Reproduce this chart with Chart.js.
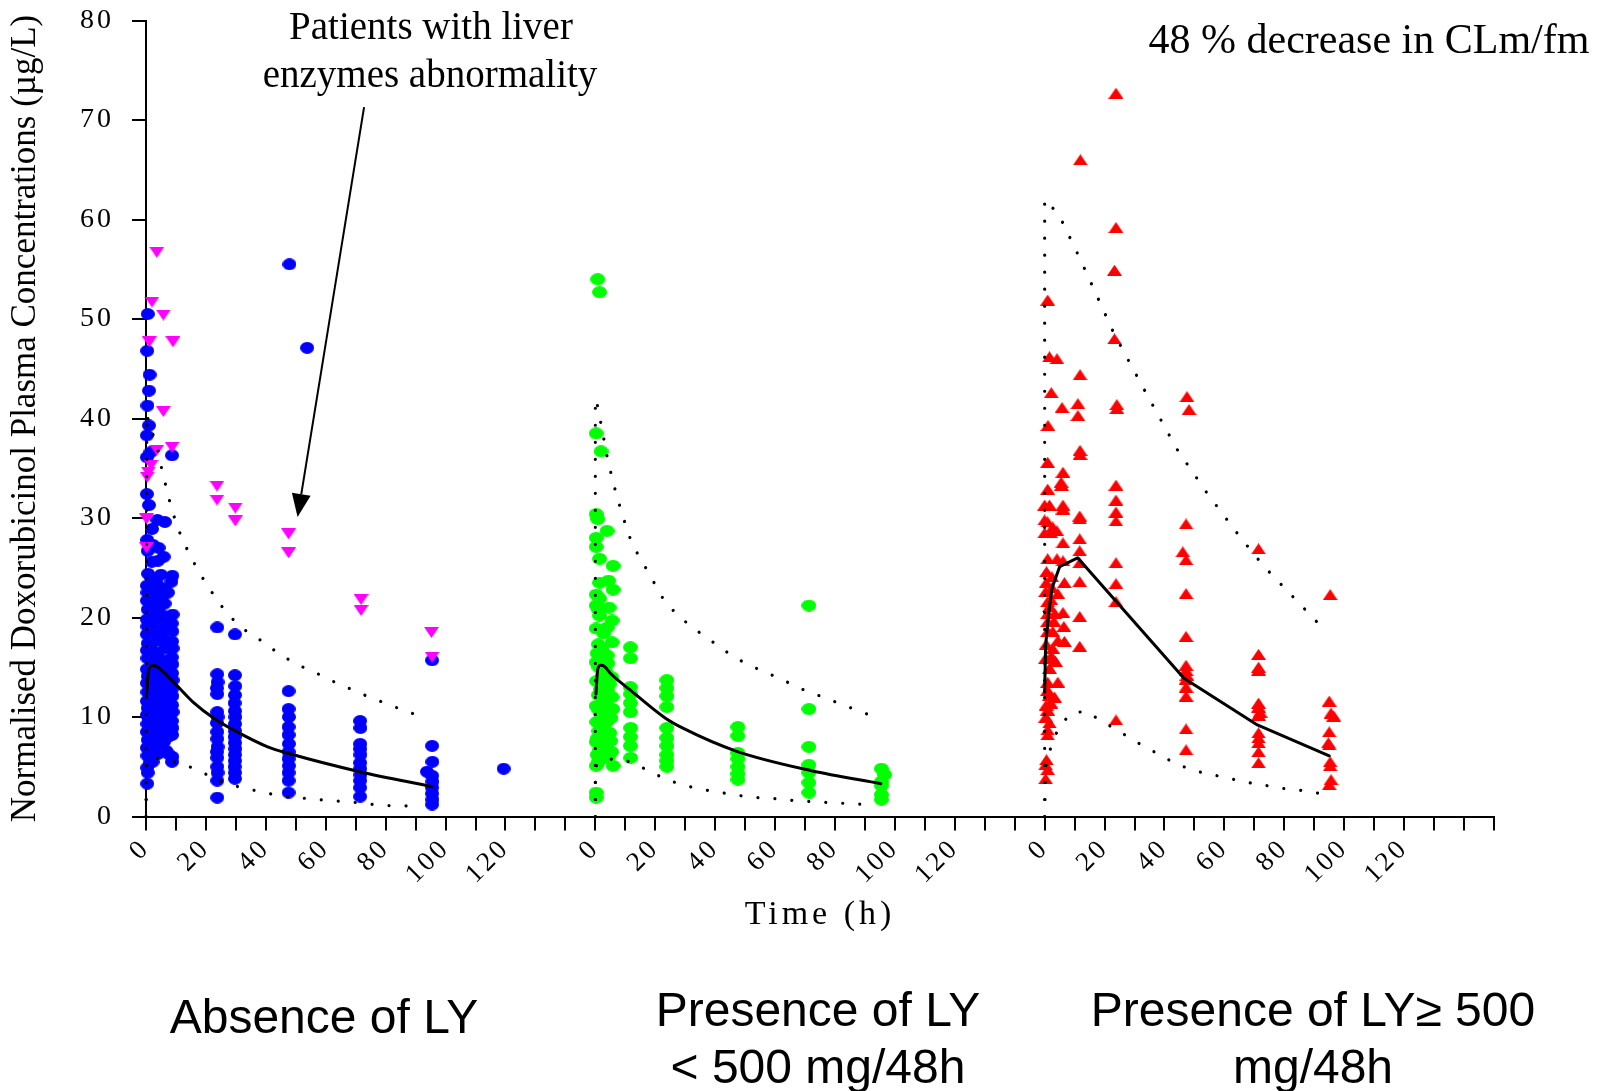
<!DOCTYPE html>
<html>
<head>
<meta charset="utf-8">
<title>Doxorubicinol concentrations by LY group</title>
<script src="https://cdn.jsdelivr.net/npm/chart.js@4.4.1/dist/chart.umd.min.js"></script>
<style>
  html, body { margin: 0; padding: 0; background: #ffffff; }
  #wrap { width: 1613px; height: 1091px; }
</style>
</head>
<body>
<div id="wrap"><canvas id="chart" width="1613" height="1091"></canvas></div>
<script>
// Each group is plotted on its own 0-150 h stretch of one shared time axis.
const panelOffsets = [0, 150, 300];
const timeTickLabels = [0, 20, 40, 60, 80, 100, 120];
const concentrationTicks = [0, 10, 20, 30, 40, 50, 60, 70, 80];

const yTitle = 'Normalised Doxorubicinol Plasma Concentrations (\u00b5g/L)';
const xTitle = 'Time (h)';
const groupNames = [['Absence of LY'], ['Presence of LY', '< 500 mg/48h'], ['Presence of LY\u2265 500', 'mg/48h']];
const liverNote = ['Patients with liver', 'enzymes abnormality'];
const clearanceNote = '48 % decrease in CLm/fm';

// Observed concentrations [time (h), concentration (ug/L)]
const absenceObs = [
  [0.6,50.5],[0.4,46.8],[1.2,44.4],[1.0,42.8],[0.5,41.3],[1.0,39.3],[0.3,38.3],[0.3,36.1],[1.5,36.6],[0.3,32.4],[1.0,31.3],
  [0.4,27.8],[0.6,26.7],[0.7,24.4],[0.3,23.2],[0.5,22.5],[0.3,21.7],[0.6,20.8],[0.3,19.8],[0.5,19.1],[0.3,18.3],[0.6,17.4],
  [0.3,16.7],[0.5,15.9],[0.3,14.8],[0.6,14.1],[0.3,13.4],[0.5,12.5],[0.3,11.6],[0.6,10.9],[0.3,10.2],[0.5,9.3],[0.3,8.5],
  [0.6,7.7],[0.3,6.9],[0.5,6.1],[0.4,4.9],[0.6,4.4],[0.4,3.3],
  [1.2,22.0],[1.3,19.5],[1.1,17.0],[1.3,14.6],[1.2,12.0],[1.1,9.8],[1.3,7.3],[1.2,5.4],
  [2.0,28.9],[2.3,27.3],[1.9,25.6],[1.8,24.0],[2.2,22.8],[2.0,21.9],[1.8,20.4],[2.2,19.5],[2.0,18.5],[1.7,17.2],[2.2,16.3],
  [2.0,15.4],[1.8,14.3],[2.3,13.5],[2.0,12.4],[1.8,11.5],[2.2,10.4],[2.0,9.7],[1.8,8.7],[2.2,7.6],[2.0,6.8],[2.2,5.5],
  [3.0,21.2],[3.1,18.8],[2.9,16.0],[3.0,13.0],[3.1,10.9],[2.9,8.3],[3.0,6.5],
  [3.8,29.8],[4.2,27.0],[4.0,25.7],[3.6,23.4],[4.2,22.1],[4.0,20.8],[3.8,19.9],[4.3,18.6],[4.0,17.7],[3.7,16.4],[4.2,15.6],
  [4.0,14.5],[3.8,13.8],[4.2,12.7],[4.0,11.9],[3.8,10.7],[4.2,9.9],[4.0,9.0],[3.8,7.9],[4.2,7.2],[4.0,6.3],
  [5.0,24.3],[5.1,21.8],[4.9,18.2],[5.0,15.2],[5.1,12.2],[4.9,10.1],[5.0,8.0],[5.2,6.8],
  [6.3,29.6],[5.9,26.1],[6.0,22.9],[6.2,21.4],[5.8,20.2],[6.1,19.0],[5.9,17.8],[6.2,16.9],[5.8,15.7],[6.0,14.6],[6.2,13.6],
  [5.8,12.6],[6.1,11.5],[5.9,10.6],[6.2,9.6],[5.8,8.5],[6.0,7.5],[6.8,6.6],
  [7.3,22.5],[7.4,19.6],[7.2,17.2],[7.4,14.9],[7.3,12.4],[7.2,10.0],[7.3,8.0],[7.5,6.3],
  [8.7,36.3],[8.8,24.2],[8.5,23.6],[8.9,20.3],[8.6,19.4],[8.8,18.6],[8.7,17.6],[8.9,16.9],[8.6,16.0],[8.8,15.3],[8.7,14.4],
  [8.9,13.7],[8.6,12.8],[8.8,12.1],[8.7,11.2],[8.9,10.5],[8.6,9.6],[8.8,8.9],[8.7,8.2],[8.8,6.0],[8.7,5.5],
  [23.8,19.0],[23.8,14.3],[23.9,13.5],[23.7,12.9],[23.8,12.3],[23.8,10.5],[23.9,10.0],[23.7,9.4],[23.8,8.5],[23.8,7.8],
  [23.9,7.0],[23.7,6.5],[23.8,5.9],[23.8,5.0],[23.9,4.4],[23.8,3.6],[23.8,1.9],
  [29.7,18.3],[29.7,14.2],[29.8,13.1],[29.7,12.2],[29.6,11.4],[29.7,10.6],[29.8,10.0],[29.7,9.3],[29.7,8.6],[29.6,8.0],
  [29.7,7.4],[29.8,6.8],[29.7,6.2],[29.7,5.6],[29.6,5.0],[29.7,4.4],[29.7,3.8],
  [47.9,55.5],[47.6,12.6],[47.6,10.8],[47.7,10.0],[47.6,9.0],[47.6,8.2],[47.7,7.3],[47.6,6.5],[47.6,5.8],[47.7,5.1],
  [47.6,4.4],[47.6,3.6],[47.6,2.4],[53.8,47.1],
  [71.5,9.6],[71.6,8.9],[71.5,7.3],[71.5,6.8],[71.6,6.2],[71.5,5.4],[71.5,4.8],[71.6,4.2],[71.5,3.6],[71.5,2.9],[71.5,2.0],
  [95.5,15.7],[95.5,7.1],[95.6,5.5],[93.8,4.5],[95.5,4.1],[95.6,3.5],[95.5,2.9],[95.5,2.3],[95.6,1.7],[95.5,1.2],
  [119.4,4.8]
];

// Patients with liver enzyme abnormality (no LY)
const liverAbnormalObs = [
  [3.6,56.7],[2.0,51.7],[5.8,50.4],[1.1,47.7],[9.0,47.7],[5.8,40.7],[3.6,36.8],[8.7,37.1],[1.7,35.3],[0.8,34.6],[0.4,34.1],
  [0.2,29.9],[0.2,27.0],[23.7,33.2],[23.7,31.8],[29.8,31.0],[29.8,29.7],[47.6,28.4],[47.6,26.5],[71.8,21.8],[71.8,20.7],
  [95.3,18.5],[95.5,16.0]
];

const lowDoseObs = [
  [0.8,54.0],[1.4,52.7],[0.3,38.5],[1.9,36.7],[0.3,30.4],[0.8,29.9],[3.9,28.7],[0.3,28.0],[0.3,27.1],[1.4,25.9],[5.9,25.2],
  [1.4,23.5],[4.4,23.7],[5.9,22.8],[0.3,22.3],[1.4,21.9],[0.3,21.2],[1.4,20.2],[5.6,19.7],[0.3,18.9],[3.9,19.0],[1.0,17.3],
  [5.6,17.5],[3.9,16.2],[0.3,15.5],[1.2,15.0],[3.5,14.6],[5.5,14.0],[0.4,13.6],[2.0,13.2],[4.0,12.7],[1.0,12.2],[5.6,12.0],
  [2.6,11.6],[0.3,11.1],[4.3,10.8],[1.6,10.4],[5.2,9.9],[0.5,9.5],[3.0,9.2],[1.2,8.6],[4.8,8.4],[2.2,7.9],[0.3,7.5],
  [3.8,7.1],[1.5,6.7],[5.4,6.5],[0.6,6.2],[2.8,5.9],[0.3,5.1],[5.9,5.1],[0.3,2.4],[0.3,1.9],
  [2.5,14.1],[4.6,13.3],[1.8,12.8],[3.4,11.3],[0.9,10.8],[2.3,10.0],[4.0,9.6],[1.9,9.0],[3.6,8.3],[0.8,7.9],[5.1,7.6],
  [1.0,20.8],[2.8,18.4],[4.6,21.0],[2.2,16.8],[0.6,16.4],[4.2,15.4],[3.2,13.6],[5.8,10.8],[2.0,6.3],[4.4,6.0],[1.0,5.5],
  [11.7,17.0],[11.7,15.9],[11.7,13.0],[11.8,12.3],[11.7,11.4],[11.7,10.5],[11.8,8.9],[11.7,8.0],[11.7,7.1],[11.8,5.9],
  [23.9,13.7],[23.9,12.9],[23.9,12.1],[23.9,11.0],[23.9,8.9],[23.9,7.9],[23.9,7.1],[23.9,6.2],[23.9,5.6],[23.9,5.0],
  [47.6,9.0],[47.6,8.1],[47.6,6.4],[47.6,5.8],[47.6,5.0],[47.6,4.3],[47.6,3.7],
  [71.3,21.2],[71.3,10.8],[71.3,7.0],[71.3,5.2],[71.3,4.4],[71.3,3.4],[71.3,2.4],
  [95.5,4.8],[96.6,4.2],[95.5,3.5],[95.5,3.1],[95.5,2.2],[95.5,1.7]
];

const highDoseObs = [
  [23.8,72.7],[11.9,66.0],[23.8,59.2],[23.3,54.9],[1.0,51.9],[23.3,48.0],[1.6,46.2],[4.1,46.0],[11.8,44.4],[2.2,42.6],
  [11.1,41.5],[5.8,41.1],[24.1,41.4],[24.1,41.0],[47.5,42.2],[48.2,40.9],[11.1,40.3],[1.1,39.3],[11.8,36.8],[11.8,36.4],
  [1.0,35.6],[6.1,34.6],[5.5,33.6],[5.6,33.3],[23.8,33.3],[1.0,32.9],[23.8,31.8],[0.0,31.3],[1.6,31.3],[6.1,31.3],[6.1,30.9],
  [23.8,30.6],[23.8,29.7],[11.7,30.2],[11.7,29.9],[0.0,29.8],[1.0,29.6],[47.2,29.4],[2.7,29.1],[0.0,28.5],[2.1,28.5],
  [4.1,28.7],[11.7,27.9],[6.1,27.5],[46.1,26.6],[47.2,25.8],[71.4,26.9],[11.7,26.7],[1.0,25.9],[4.1,25.9],[6.1,25.7],
  [11.7,25.5],[23.8,25.5],[0.5,23.5],[6.6,23.5],[11.7,23.6],[23.8,23.4],[4.4,22.4],[47.2,22.4],[23.8,21.6],[1.0,21.6],
  [1.6,21.1],[1.0,20.4],[3.4,20.4],[6.1,20.5],[1.0,19.6],[3.1,19.6],[6.4,19.1],[2.7,18.6],[1.0,18.6],[4.4,17.7],[6.6,17.6],
  [2.7,16.9],[2.1,16.1],[2.7,15.9],[1.6,14.9],[11.7,20.1],[11.7,17.1],[47.2,18.1],[71.4,16.3],[71.4,15.0],[71.4,14.7],
  [47.2,15.2],[47.2,14.7],[47.5,14.2],[47.2,13.8],[47.2,13.0],[47.2,12.1],[1.0,13.5],[4.4,13.5],[1.0,12.7],[0.5,11.2],
  [2.1,11.4],[1.0,10.7],[1.6,9.4],[1.0,8.7],[1.0,8.2],[23.8,9.7],[47.2,8.8],[47.2,6.7],[71.4,11.4],[71.4,11.0],[71.9,10.5],
  [71.4,10.2],[71.4,8.4],[71.4,7.9],[71.4,7.4],[71.4,6.5],[71.4,5.4],[95.3,22.3],[95.0,11.6],[95.6,10.4],[96.5,10.1],
  [95.0,8.5],[94.7,7.4],[95.0,7.2],[95.3,5.5],[95.3,5.1],[95.6,3.7],[95.0,3.2],[0.6,5.7],[0.3,5.2],[1.0,4.7],[0.3,3.8],
  [0.6,24.6],[2.4,24.1],[0.3,22.6],[2.1,21.8],[0.5,17.3],[3.6,15.6],[0.3,15.9],[1.6,12.2],[3.3,12.0],[0.4,10.0],[2.4,23.0]
];

// Model median (solid) and prediction interval bounds (dotted)
const absenceFit = [[0.2,12.1],[0.8,14.6],[2.3,15.2],[4.0,15.0],[8.6,13.7],[15.7,11.5],[23.0,9.8],[30.4,8.5],[40.6,7.0],[48.0,6.3],[71.3,4.5],[95.5,3.0]];
const absenceUpper = [[0,0],[0.3,40.5],[1.3,39.0],[3.3,37.8],[5.2,35.0],[7.7,31.9],[10.4,29.1],[14.7,26.2],[20.2,23.3],[27.0,20.4],[32.2,18.9],[38.3,17.7],[44.2,16.4],[50.2,15.3],[56.3,14.5],[62.3,13.6],[68.4,12.8],[74.5,12.0],[80.7,11.3],[86.5,10.6],[92.6,10.0]];
const absenceLower = [[0,0],[0.3,5.6],[2.0,6.0],[6.4,5.7],[12.3,5.3],[18.3,4.5],[24.4,3.6],[30.7,3.0],[36.6,2.6],[42.7,2.2],[48.7,1.9],[54.9,1.8],[60.8,1.6],[66.9,1.5],[73.1,1.3],[79.3,1.1],[85.3,1.1],[91.4,1.0]];

const lowDoseFit = [[0.2,12.3],[0.8,14.8],[1.8,15.2],[3.0,15.1],[5.0,14.4],[11.7,12.7],[23.3,9.9],[29.4,8.85],[47.2,6.55],[72.2,4.6],[95.3,3.3]];
const lowDoseUpper = [[0,0],[0,42.0],[1.1,40.9],[1.9,39.4],[2.8,38.0],[3.7,36.5],[4.8,35.0],[6.0,33.6],[7.2,32.1],[8.7,30.7],[10.2,29.2],[11.9,27.7],[14.3,26.3],[17.0,24.9],[19.8,23.4],[22.6,21.9],[26.6,20.5],[31.9,19.1],[38.0,17.8],[44.0,16.5],[50.0,15.4],[56.0,14.6],[62.1,13.8],[68.1,12.9],[74.2,12.2],[80.3,11.5],[86.3,10.8],[92.4,10.1]];
const lowDoseLower = [[0,0],[0,4.6],[0.5,5.3],[5.7,5.8],[11.7,5.5],[17.8,4.6],[23.8,3.7],[29.9,3.1],[36.0,2.7],[42.0,2.4],[48.1,2.1],[54.2,1.9],[60.2,1.8],[66.4,1.6],[72.4,1.5],[78.5,1.4],[84.6,1.3],[90.7,1.2]];

const highDoseFit = [[0,12.5],[0.3,17.1],[1.2,20.1],[2.5,23.0],[5.0,25.1],[11.0,26.0],[46.5,13.9],[71.0,9.2],[95.0,6.1]];
const highDoseUpper = [[0,0],[0,62.0],[0.5,62.0],[5.2,60.2],[12.2,55.8],[23.2,48.5],[33.6,42.7],[44.2,36.9],[54.2,32.5],[65.2,28.1],[73.0,25.2],[82.2,22.3],[91.4,19.4]];
const highDoseLower = [[0,0],[0.3,4.8],[0.8,5.8],[2.6,7.4],[4.5,8.8],[8.4,10.3],[13.5,10.6],[19.6,9.5],[25.7,8.4],[31.7,7.3],[37.8,6.3],[43.8,5.3],[49.9,4.6],[56.0,4.2],[62.0,3.8],[68.1,3.4],[74.1,3.1],[80.1,2.8],[86.2,2.6],[92.2,2.3]];

// Arrow from the liver note to the abnormal-liver points, in [time, concentration]
const liverArrow = [[72.8, 71.3], [50.6, 30.1]];

// ---------------------------------------------------------------------------

function marker(kind, color, w, h) {
  const c = document.createElement('canvas');
  c.width = w; c.height = h;
  const g = c.getContext('2d');
  g.fillStyle = color;
  g.beginPath();
  if (kind === 'dot') {
    g.ellipse(w / 2, h / 2, w / 2, h / 2, 0, 0, Math.PI * 2);
  } else if (kind === 'up') {
    g.moveTo(w / 2, 0); g.lineTo(w, h); g.lineTo(0, h); g.closePath();
  } else {
    g.moveTo(0, 0); g.lineTo(w, 0); g.lineTo(w / 2, h); g.closePath();
  }
  g.fill();
  return c;
}

const toXY = (pts, offset) => pts.map(([t, v]) => ({ x: t + offset, y: v }));

function pointSet(pts, panel, style, order) {
  return {
    data: toXY(pts, panelOffsets[panel]),
    showLine: false,
    pointStyle: style,
    pointRadius: 7,
    pointHoverRadius: 7,
    order: order,
    clip: false
  };
}

function curveSet(pts, panel, kind) {
  const dotted = kind === 'dotted';
  return {
    data: toXY(pts, panelOffsets[panel]),
    showLine: true,
    pointRadius: 0,
    borderColor: '#000000',
    borderWidth: dotted ? 3.2 : 3,
    borderDash: dotted ? [0.01, 17] : [],
    borderCapStyle: 'round',
    borderJoinStyle: 'round',
    cubicInterpolationMode: kind === 'smooth' ? 'monotone' : 'default',
    tension: 0,
    fill: false,
    order: 0,
    clip: false
  };
}

const blueDot = marker('dot', '#0000ff', 14, 12);
const greenDot = marker('dot', '#00ff00', 15, 12);
const redTri = marker('up', '#ff0000', 15, 11);
const pinkTri = marker('down', '#ff00ff', 15, 11);

// Letter-spaced tick labels and x title, drawn through the scale's own routines
const spacedText = {
  id: 'spacedText',
  beforeDraw(chart) {
    const wrap = (scale, fn, px) => {
      if (scale[fn]._spaced) return;
      const orig = scale[fn];
      const w = function (...args) {
        const ctx = scale.ctx;
        ctx.save();
        ctx.letterSpacing = px;
        orig.apply(scale, args);
        ctx.restore();
      };
      w._spaced = true;
      scale[fn] = w;
    };
    wrap(chart.scales.x, 'drawLabels', '3px');
    wrap(chart.scales.y, 'drawLabels', '3px');
    wrap(chart.scales.x, 'drawTitle', '4px');
  }
};

const notes = {
  id: 'notes',
  afterDraw(chart) {
    const { ctx, scales: { x, y } } = chart;
    ctx.save();
    ctx.fillStyle = '#000000';
    ctx.strokeStyle = '#000000';
    ctx.textAlign = 'center';
    ctx.textBaseline = 'alphabetic';

    ctx.font = '39px "Liberation Serif"';
    ctx.fillText(liverNote[0], 431, 38.5);
    ctx.fillText(liverNote[1], 430, 86.5);

    ctx.font = '42px "Liberation Serif"';
    ctx.fillText(clearanceNote, 1369, 52.5);

    // arrow
    const x0 = x.getPixelForValue(liverArrow[0][0] + panelOffsets[0]);
    const y0 = y.getPixelForValue(liverArrow[0][1]);
    const x1 = x.getPixelForValue(liverArrow[1][0] + panelOffsets[0]);
    const y1 = y.getPixelForValue(liverArrow[1][1]);
    const ang = Math.atan2(y1 - y0, x1 - x0);
    const headLen = 23, headHalf = 9.5;
    const bx = x1 - headLen * Math.cos(ang), by = y1 - headLen * Math.sin(ang);
    ctx.lineWidth = 2;
    ctx.beginPath();
    ctx.moveTo(x0, y0);
    ctx.lineTo(bx, by);
    ctx.stroke();
    ctx.beginPath();
    ctx.moveTo(x1, y1);
    ctx.lineTo(bx + headHalf * Math.sin(ang), by - headHalf * Math.cos(ang));
    ctx.lineTo(bx - headHalf * Math.sin(ang), by + headHalf * Math.cos(ang));
    ctx.closePath();
    ctx.fill();

    // group names under the axis
    ctx.font = '48px "Liberation Sans"';
    ctx.fillText(groupNames[0][0], 324, 1033);
    ctx.fillText(groupNames[1][0], 818, 1026);
    ctx.fillText(groupNames[1][1], 818, 1083);
    ctx.fillText(groupNames[2][0], 1313, 1026);
    ctx.fillText(groupNames[2][1], 1313, 1083);
    ctx.restore();
  }
};

const datasets = [
  curveSet(absenceFit, 0, 'smooth'), curveSet(absenceUpper, 0, 'dotted'), curveSet(absenceLower, 0, 'dotted'),
  curveSet(lowDoseFit, 1, 'smooth'), curveSet(lowDoseUpper, 1, 'dotted'), curveSet(lowDoseLower, 1, 'dotted'),
  curveSet(highDoseFit, 2, 'straight'), curveSet(highDoseUpper, 2, 'dotted'), curveSet(highDoseLower, 2, 'dotted'),
  pointSet(liverAbnormalObs, 0, pinkTri, 1),
  pointSet(absenceObs, 0, blueDot, 2),
  pointSet(lowDoseObs, 1, greenDot, 2),
  pointSet(highDoseObs, 2, redTri, 2)
];

const serif = 'Liberation Serif';

new Chart(document.getElementById('chart'), {
  type: 'scatter',
  data: { datasets },
  plugins: [spacedText, notes],
  options: {
    responsive: false,
    animation: false,
    devicePixelRatio: 1,
    layout: { autoPadding: false, padding: { top: 20.5, right: 119, left: 0, bottom: 0 } },
    plugins: { legend: { display: false }, tooltip: { enabled: false } },
    scales: {
      x: {
        type: 'linear',
        min: 0,
        max: panelOffsets[2] + 150,
        afterFit: s => { s.height = 274.5; s.paddingLeft = 0; s.paddingRight = 0; },
        afterBuildTicks: s => {
          const ticks = [];
          for (let v = s.min; v <= s.max; v += 10) ticks.push({ value: v });
          s.ticks = ticks;
        },
        ticks: {
          autoSkip: false,
          minRotation: 45,
          maxRotation: 45,
          padding: 2,
          color: '#000000',
          font: { family: serif, size: 27 },
          callback: (value) => {
            if (value >= panelOffsets[2] + 150) return '';
            const panel = panelOffsets.findIndex((o, i) => value >= o && (i === panelOffsets.length - 1 || value < panelOffsets[i + 1]));
            const rel = Math.round(value - panelOffsets[panel]);
            return timeTickLabels.includes(rel) ? String(rel) : '';
          }
        },
        grid: { display: true, drawOnChartArea: false, drawTicks: true, tickLength: 14, color: '#000000', lineWidth: 2 },
        border: { display: true, color: '#000000', width: 2 },
        title: {
          display: true,
          text: xTitle,
          color: '#000000',
          font: { family: serif, size: 34 },
          padding: { top: 0, bottom: 156 }
        }
      },
      y: {
        type: 'linear',
        min: concentrationTicks[0],
        max: concentrationTicks[concentrationTicks.length - 1],
        afterFit: s => { s.width = 146; s.paddingTop = 0; s.paddingBottom = 0; },
        afterBuildTicks: s => { s.ticks = concentrationTicks.map(v => ({ value: v })); },
        ticks: {
          padding: 18,
          color: '#000000',
          font: { family: serif, size: 28 }
        },
        grid: { display: true, drawOnChartArea: false, drawTicks: true, tickLength: 14, color: '#000000', lineWidth: 2 },
        border: { display: true, color: '#000000', width: 2 },
        title: {
          display: true,
          text: yTitle,
          color: '#000000',
          font: { family: serif, size: 35 },
          padding: { top: 5, bottom: 0 }
        }
      }
    }
  }
});
</script>
</body>
</html>
